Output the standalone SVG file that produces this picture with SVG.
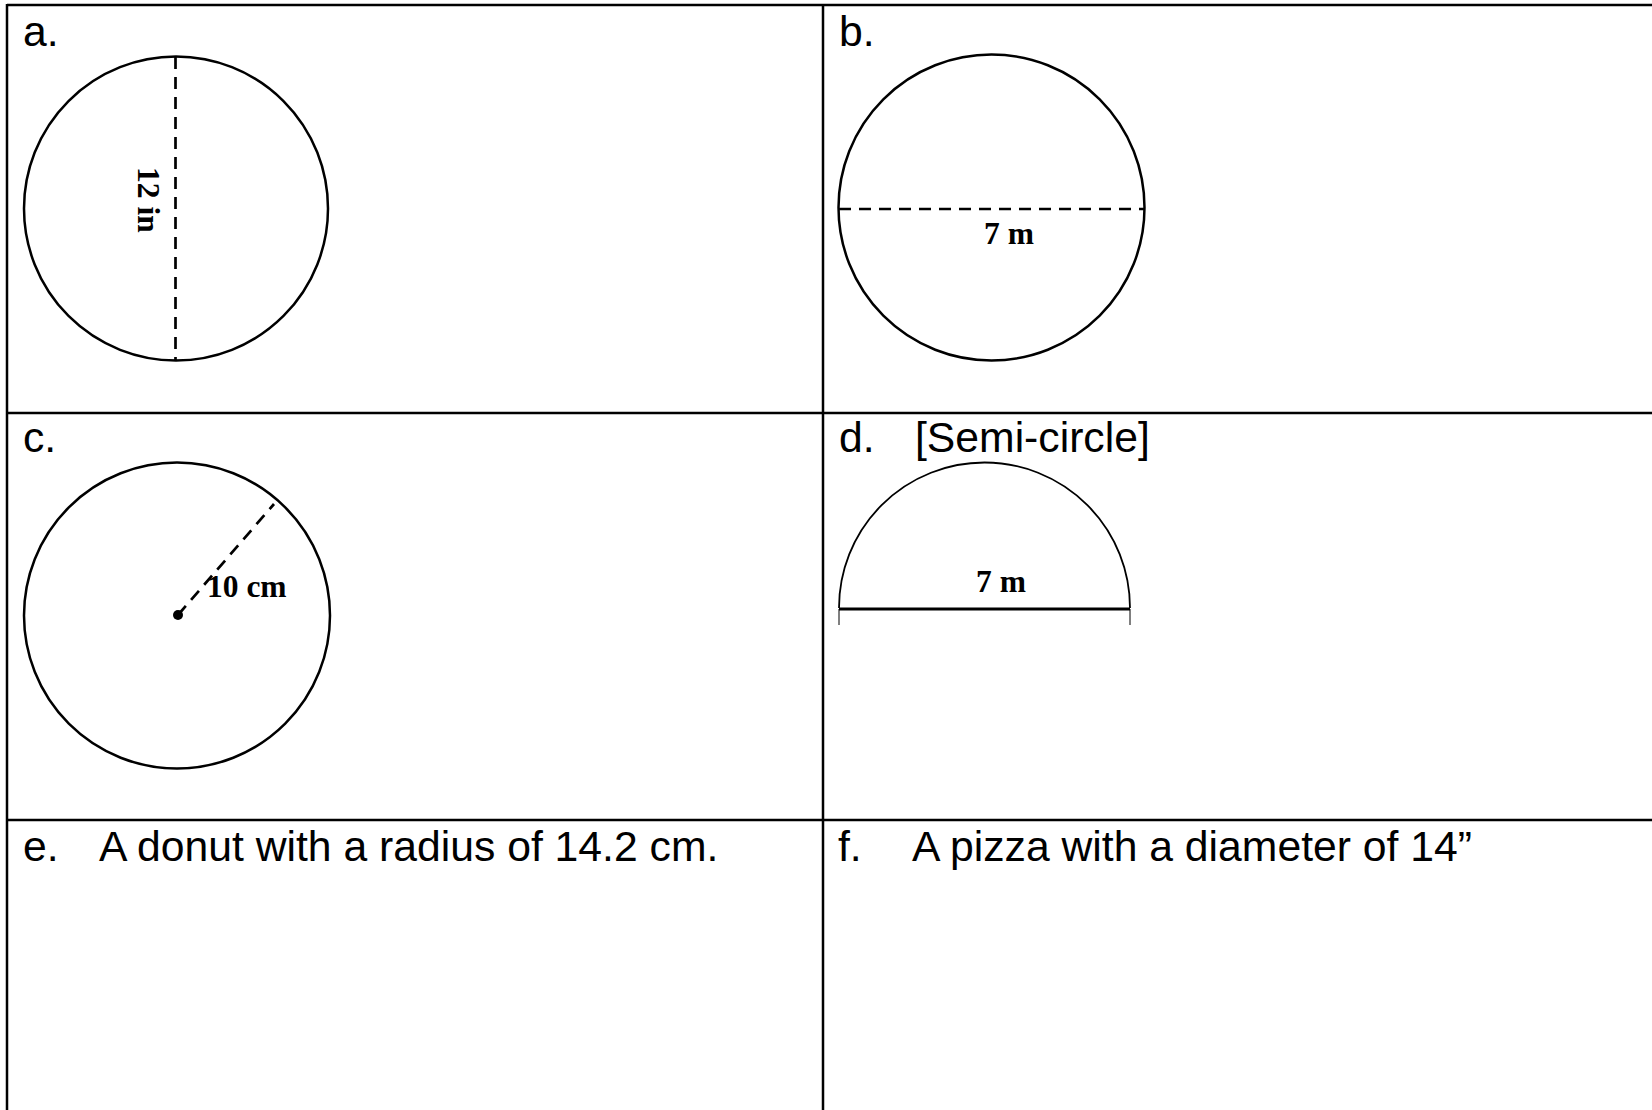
<svg xmlns="http://www.w3.org/2000/svg" width="1652" height="1110" viewBox="0 0 1652 1110">
<style>
.grid{stroke:#000;stroke-width:2.5;fill:none}
.shape{stroke:#000;stroke-width:2.5;fill:none}
.thin{stroke:#000;stroke-width:1.8;fill:none}
.dash{stroke:#000;stroke-width:2.7;fill:none;stroke-dasharray:12 8}
.lbl{font-family:"Liberation Sans",Arial,sans-serif;font-size:42.7px;fill:#000}
.meas{font-family:"Liberation Serif","Times New Roman",serif;font-size:31.5px;font-weight:bold;fill:#000}
</style>
<rect width="1652" height="1110" fill="#fff"/>
<g id="table">
<line class="grid" x1="7" y1="5" x2="1652" y2="5"/>
<line class="grid" x1="7" y1="413" x2="1652" y2="413"/>
<line class="grid" x1="7" y1="820" x2="1652" y2="820"/>
<line class="grid" x1="7" y1="4" x2="7" y2="1110"/>
<line class="grid" x1="823" y1="4" x2="823" y2="1110"/>
</g>
<g id="cell-a">
<text class="lbl" x="23" y="46">a.</text>
<circle class="shape" cx="176" cy="208.5" r="152"/>
<text class="meas" transform="translate(138,167) rotate(90)">12 in</text>
</g>
<g id="cell-b">
<text class="lbl" x="839" y="46">b.</text>
<circle class="shape" cx="991.5" cy="207.5" r="153"/>
<text class="meas" x="984" y="244">7 m</text>
</g>
<g id="cell-c">
<text class="lbl" x="23" y="452">c.</text>
<circle class="shape" cx="177" cy="615.5" r="153"/>
<circle cx="178" cy="615" r="5" fill="#000"/>
<text class="meas" x="207" y="597">10 cm</text>
</g>
<g id="cell-d">
<text class="lbl" x="839" y="452">d.</text>
<text class="lbl" x="915" y="452">[Semi-circle]</text>
<path class="thin" d="M839,608 A145.5,145.5 0 0 1 1130,608"/>
<text class="meas" x="976" y="592">7 m</text>
</g>
<g id="cell-e">
<text class="lbl" x="23" y="861">e.</text>
<text class="lbl" x="99" y="861">A donut with a radius of 14.2 cm.</text>
</g>
<g id="cell-f">
<text class="lbl" x="838" y="861">f.</text>
<text class="lbl" x="912" y="861">A pizza with a diameter of 14”</text>
</g>
<g id="connectors">
<line class="dash" x1="175.5" y1="57" x2="175.5" y2="360"/>
<line class="dash" x1="839" y1="209" x2="1144" y2="209"/>
<line class="dash" x1="178" y1="615" x2="274" y2="504"/>
<line x1="839" y1="609" x2="1130" y2="609" stroke="#000" stroke-width="3"/>
<line x1="839" y1="609" x2="839" y2="625" stroke="#000" stroke-width="1"/>
<line x1="1130" y1="609" x2="1130" y2="625" stroke="#000" stroke-width="1"/>
</g>
</svg>
